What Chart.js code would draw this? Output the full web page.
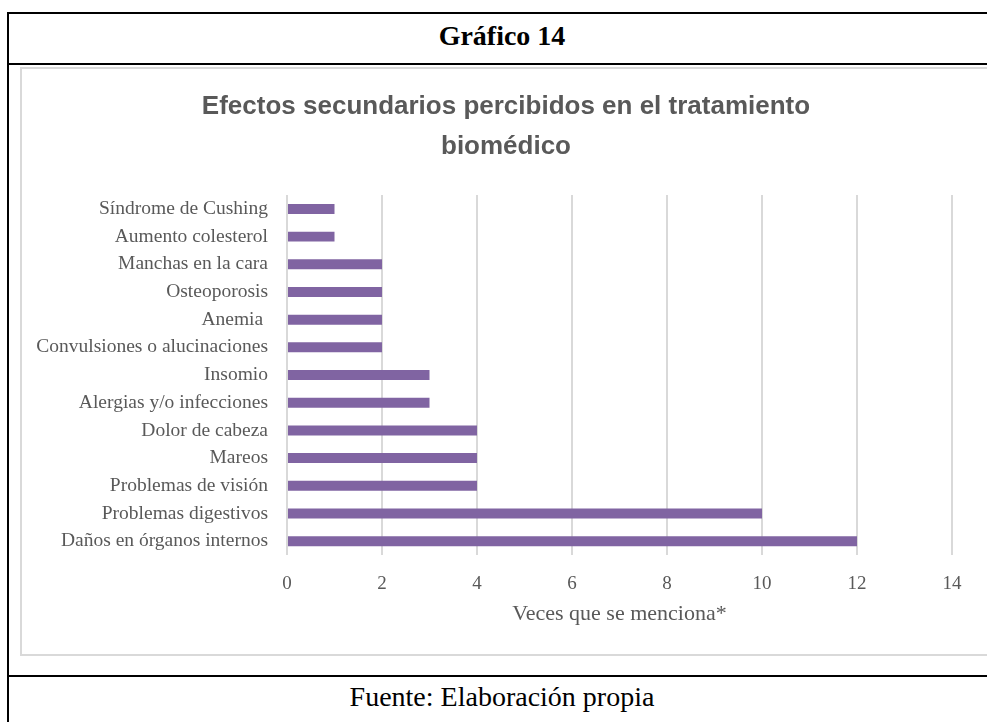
<!DOCTYPE html>
<html lang="es">
<head>
<meta charset="utf-8">
<title>Gráfico 14</title>
<script src="https://cdn.jsdelivr.net/npm/chart.js@4/dist/chart.umd.min.js"></script>
<style>
html, body {
    margin: 0;
    padding: 0;
    width: 987px;
    height: 722px;
    overflow: hidden;
    background: #ffffff;
}

.frame {
    position: absolute;
    left: 7px;
    top: 12px;
    width: 1000px;
    height: 730px;
    border: 2px solid #000;
    box-sizing: border-box;
}

.rule {
    position: absolute;
    left: 7px;
    width: 1000px;
    height: 2px;
    background: #000;
}

.caption {
    position: absolute;
    left: 7px;
    width: 990px;
    text-align: center;
    font-family: "Liberation Serif", "Times New Roman", serif;
    color: #000;
    font-size: 28px;
}

.chart-box {
    position: absolute;
    left: 20px;
    top: 67px;
    width: 1000px;
    height: 589px;
    border: 2px solid #d9d9d9;
    box-sizing: border-box;
}

.chart-box canvas {
    display: block;
}
</style>
</head>
<body>
<div class="frame"></div>
<div class="rule" style="top: 63px;"></div>
<div class="rule" style="top: 675px;"></div>

<div class="caption" style="top: 20px; font-weight: bold;">Gráfico 14</div>
<div class="caption" style="top: 681px;">Fuente: Elaboración propia</div>

<div class="chart-box">
    <canvas id="efectosChart" width="996" height="585"></canvas>
</div>

<script>
// Efectos secundarios, de arriba hacia abajo
const efectos = [
    'Síndrome de Cushing',
    'Aumento colesterol',
    'Manchas en la cara',
    'Osteoporosis',
    'Anemia ',
    'Convulsiones o alucinaciones',
    'Insomio',
    'Alergias y/o infecciones',
    'Dolor de cabeza',
    'Mareos',
    'Problemas de visión',
    'Problemas digestivos',
    'Daños en órganos internos'
];
const menciones = [1, 1, 2, 2, 2, 2, 3, 3, 4, 4, 4, 10, 12];
const ejeX = [0, 2, 4, 6, 8, 10, 12, 14];

const gris = '#595959';
const serif = "'Liberation Serif', 'Times New Roman', serif";

const ctx = document.getElementById('efectosChart').getContext('2d');
const efectosChart = new Chart(ctx, {
    type: 'bar',
    data: {
        labels: efectos,
        datasets: [{
            label: 'Veces que se menciona',
            data: menciones,
            backgroundColor: '#8064a2',
            borderWidth: 0,
            barPercentage: 0.72,
            categoryPercentage: 0.5
        }]
    },
    options: {
        indexAxis: 'y',
        responsive: false,
        animation: false,
        layout: {
            padding: { left: 0, right: 28, top: 0, bottom: 27 }
        },
        plugins: {
            legend: { display: false },
            tooltip: { enabled: false },
            title: {
                display: true,
                text: ['Efectos secundarios percibidos en el tratamiento', 'biomédico'],
                color: gris,
                font: { family: "'Liberation Sans', Arial, sans-serif", size: 26, weight: 'bold', lineHeight: 1.54 },
                padding: { top: 18, bottom: 28 }
            }
        },
        scales: {
            x: {
                min: 0,
                max: 14,
                afterBuildTicks: scale => {
                    scale.ticks = ejeX.map(v => ({ value: v }));
                },
                afterFit: scale => {
                    scale.height = 72;
                },
                grid: {
                    color: '#d9d9d9',
                    lineWidth: 2,
                    drawTicks: false
                },
                border: { display: false },
                ticks: {
                    color: gris,
                    padding: 18,
                    font: { family: serif, size: 19 }
                },
                title: {
                    display: true,
                    text: 'Veces que se menciona*',
                    color: gris,
                    padding: { top: 4, bottom: 0 },
                    font: { family: serif, size: 22 }
                }
            },
            y: {
                grid: { display: false, drawTicks: false },
                border: { display: false },
                afterFit: scale => {
                    scale.width = 265;
                },
                ticks: {
                    color: gris,
                    padding: 19,
                    autoSkip: false,
                    font: { family: serif, size: 19.5 }
                }
            },
            // empty strip on the right so the title sits centred over the frame
            margen: {
                type: 'linear',
                position: 'right',
                grid: { display: false, drawTicks: false },
                border: { display: false },
                ticks: { display: false },
                afterFit: scale => {
                    scale.width = 38;
                }
            }
        }
    }
});
</script>
</body>
</html>
